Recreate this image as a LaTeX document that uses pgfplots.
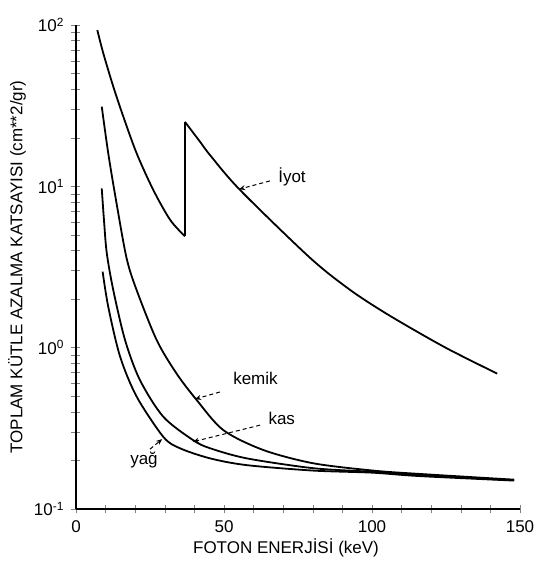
\documentclass[border=0pt]{standalone}
\usepackage{pgfplots}
\pgfplotsset{compat=1.18}
\usepackage{fontspec}
\setmainfont{Liberation Sans}
\usetikzlibrary{arrows.meta}

\begin{document}
\begin{tikzpicture}[font=\fontsize{8.5}{10}\selectfont]
\begin{axis}[
  scale only axis,
  width=222pt, height=242pt,
  ymode=log,
  xmin=0, xmax=150, ymin=0.1, ymax=100,
  axis x line=bottom, axis y line=left,
  axis line style={-, line width=1pt},
  major tick length=4.5pt, minor tick length=4.5pt,
  xtick={0,50,100,150},
  minor xtick={10,20,30,40,60,70,80,90,110,120,130,140},
  ytick={0.1,1,10,100},
  yticklabels={10\textsuperscript{-1},10\textsuperscript{0},10\textsuperscript{1},10\textsuperscript{2}},
  minor ytick={0.2,0.3,0.4,0.5,0.6,0.7,0.8,0.9,2,3,4,5,6,7,8,9,20,30,40,50,60,70,80,90},
  /pgf/number format/assume math mode=true,
  ticklabel style={font=\fontsize{8.5}{10}\selectfont},
  xlabel={FOTON ENERJİSİ (keV)},
  ylabel={TOPLAM KÜTLE AZALMA KATSAYISI (cm**2/gr)},
  every axis x label/.append style={at={(axis description cs:0.473,-0.081)}, anchor=center},
  every axis y label/.append style={at={(axis description cs:-0.133,0.5)}, anchor=center},
  label style={font=\fontsize{8.5}{10}\selectfont},
]
% Iyot
\addplot[black, line width=0.9pt, smooth] coordinates {(7.2,93) (9.2,67) (12.6,41.5) (16.0,27) (20.5,16) (26.1,9.5) (31.8,6.2) (36.8,4.9)};
\addplot[black, line width=0.9pt] coordinates {(36.8,4.9) (36.8,25.1)};
\addplot[black, line width=0.9pt, smooth] coordinates {(36.8,25.1) (41.9,18.9) (45.3,15.6) (55.4,9.5) (79.1,3.6) (92.6,2.28) (103.8,1.67) (115.1,1.26) (126.4,0.966) (142.3,0.69)};
% kemik
\addplot[black, line width=0.9pt, smooth] coordinates {(8.7,31.2) (10.9,16) (13.7,7.85) (17.1,3.58) (20.5,2.27) (27.3,1.11) (34.0,0.69) (40.8,0.473) (49.8,0.308) (63.3,0.232) (80.2,0.192) (100.4,0.173) (116,0.165) (148,0.152)};
% kas
\addplot[black, line width=0.9pt, smooth] coordinates {(8.7,9.7) (9.5,6.0) (10.4,3.85) (12.6,2.27) (16.6,1.11) (21.6,0.63) (29.5,0.373) (39.6,0.267) (45.3,0.238) (57.7,0.206) (80.2,0.179) (100.3,0.170) (116,0.162) (148,0.151)};
% yag
\addplot[black, line width=0.9pt, smooth] coordinates {(9.0,2.96) (10.9,1.79) (14.9,0.88) (20.5,0.497) (29.5,0.28) (35.1,0.238) (45.3,0.206) (57.7,0.187) (80.2,0.173) (100,0.168) (116,0.160) (148,0.150)};

\node[anchor=west, inner sep=0pt] at (axis cs:68.2,11.4) {İyot};
\draw[dashed, dash pattern=on 2pt off 1.5pt, line width=0.5pt, -{Stealth[length=3pt,width=2.5pt]}] (axis cs:65.5,10.8) -- (axis cs:55.1,9.6);
\node[anchor=west, inner sep=0pt] at (axis cs:53,0.649) {kemik};
\draw[dashed, dash pattern=on 2pt off 1.5pt, line width=0.5pt, -{Stealth[length=3pt,width=2.5pt]}] (axis cs:48.6,0.531) -- (axis cs:40.2,0.48);
\node[anchor=west, inner sep=0pt] at (axis cs:64.9,0.366) {kas};
\draw[dashed, dash pattern=on 2pt off 1.5pt, line width=0.5pt, -{Stealth[length=3pt,width=2.5pt]}] (axis cs:62.2,0.331) -- (axis cs:39.5,0.261);
\node[anchor=west, inner sep=0pt] at (axis cs:18.2,0.201) {yağ};
\draw[dashed, dash pattern=on 2pt off 1.5pt, line width=0.5pt, -{Stealth[length=3pt,width=2.5pt]}] (axis cs:25,0.235) -- (axis cs:29.1,0.271);
\end{axis}
\path[use as bounding box] (-38pt,-28pt) rectangle (230pt,254.5pt);
\end{tikzpicture}
\end{document}
